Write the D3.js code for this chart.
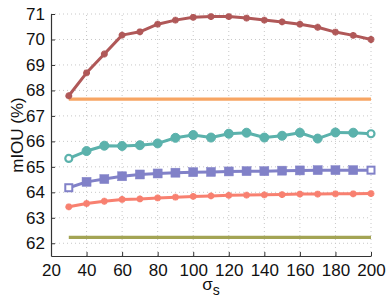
<!DOCTYPE html>
<html><head><meta charset="utf-8">
<script src="https://cdn.jsdelivr.net/npm/d3@7/dist/d3.min.js"></script>
<style>body{margin:0;background:#fff}svg{display:block}text{font-family:"Liberation Sans",Arial,sans-serif}</style>
</head><body>
<script>
const sigma = [30,40,50,60,70,80,90,100,110,120,130,140,150,160,170,180,190,200];
const brownVals = [67.79,68.69,69.43,70.17,70.30,70.60,70.76,70.87,70.90,70.90,70.84,70.76,70.69,70.60,70.48,70.29,70.16,70.00];
const tealVals  = [65.33,65.62,65.83,65.82,65.85,65.92,66.14,66.25,66.15,66.30,66.34,66.15,66.22,66.34,66.11,66.35,66.34,66.30];
const purpleVals= [64.18,64.41,64.52,64.63,64.70,64.74,64.77,64.79,64.80,64.82,64.83,64.83,64.85,64.86,64.87,64.87,64.87,64.87];
const salmonVals= [63.43,63.56,63.65,63.72,63.74,63.78,63.81,63.84,63.86,63.88,63.89,63.90,63.91,63.93,63.93,63.94,63.94,63.95];
const orangeVal = 67.66;
const oliveVal = 62.23;
const xTicks = [20,40,60,80,100,120,140,160,180,200];
const yTicks = [62,63,64,65,66,67,68,69,70,71];

const W=390,H=302, L=51, R=371, T=14, B=256;
const svg=d3.select("body").append("svg").attr("width",W).attr("height",H);
const x=d3.scaleLinear().domain([20,200]).range([L,R]);
const y=d3.scaleLinear().domain([61.5,71]).range([B,T]);

// grid
const g=svg.append("g");
g.selectAll(".vg").data(xTicks.slice(1)).enter().append("line")
 .attr("x1",d=>x(d)).attr("x2",d=>x(d)).attr("y1",B).attr("y2",T)
 .attr("stroke","#c8c8c8").attr("stroke-width",1).attr("stroke-dasharray","1,3");
g.selectAll(".hg").data(yTicks).enter().append("line")
 .attr("x1",L).attr("x2",R).attr("y1",d=>y(d)).attr("y2",d=>y(d))
 .attr("stroke","#c8c8c8").attr("stroke-width",1).attr("stroke-dasharray","1,3");

// axes
const xa=svg.append("g").attr("transform",`translate(0,${B})`)
 .call(d3.axisBottom(x).tickValues(xTicks).tickSize(-4).tickPadding(8).tickSizeOuter(0));
const ya=svg.append("g").attr("transform",`translate(${L},0)`)
 .call(d3.axisLeft(y).tickValues(yTicks).tickSize(-4).tickPadding(6).tickSizeOuter(0));
[xa,ya].forEach(a=>{a.select(".domain").attr("stroke","#333").attr("stroke-width",1.2);
 a.selectAll(".tick line").attr("stroke","#333");
 a.selectAll("text").attr("font-size",17).attr("fill","#111").attr("font-family","Liberation Sans, Arial, sans-serif");});

// labels
svg.append("text").attr("transform",`translate(23,${(T+B)/2}) rotate(-90)`)
 .attr("text-anchor","middle").attr("font-size",17).attr("fill","#111").text("mIOU (%)");
const xl=svg.append("text").attr("x",211).attr("y",290).attr("text-anchor","middle").attr("font-size",17).attr("fill","#111");
xl.append("tspan").text("σ");
xl.append("tspan").attr("font-size",14).attr("dy",5).text("s");

const line=d3.line().x((d,i)=>x(sigma[i])).y(d=>y(d));

// flat lines
svg.append("line").attr("x1",x(30)).attr("x2",x(200)).attr("y1",y(orangeVal)).attr("y2",y(orangeVal))
 .attr("stroke","#f7a563").attr("stroke-width",3.2);
svg.append("line").attr("x1",x(30)).attr("x2",x(200)).attr("y1",y(oliveVal)).attr("y2",y(oliveVal))
 .attr("stroke","#a3a454").attr("stroke-width",3.2);

function series(vals,color,marker){
  svg.append("path").datum(vals).attr("d",line).attr("fill","none")
   .attr("stroke",color).attr("stroke-width",3).attr("stroke-linejoin","round");
  const n=vals.length;
  vals.forEach((v,i)=>{
    const cx=x(sigma[i]), cy=y(v);
    const open=(i===0||i===n-1)&&(marker==="circle"||marker==="square");
    if(marker==="circle"){
      svg.append("circle").attr("cx",cx).attr("cy",cy).attr("r",open?3.5:4.5)
        .attr("fill",open?"#fff":color).attr("stroke",color).attr("stroke-width",open?2.2:1);
    } else if(marker==="square"){
      const s=open?7:9;
      svg.append("rect").attr("x",cx-s/2).attr("y",cy-s/2).attr("width",s).attr("height",s)
        .attr("fill",open?"#fff":color).attr("stroke",color).attr("stroke-width",open?2:0.5);
    } else {
      svg.append("path").attr("d",d3.symbol(d3.symbolCross,26)()).attr("transform",`translate(${cx},${cy}) rotate(45)`)
        .attr("fill",color);
      svg.append("path").attr("d",d3.symbol(d3.symbolCross,26)()).attr("transform",`translate(${cx},${cy})`)
        .attr("fill",color);
    }
  });
}
series(brownVals,"#b05858","star");
series(tealVals,"#5bb2ac","circle");
series(purpleVals,"#8181c8","square");
series(salmonVals,"#f88070","star");
</script>
</body></html>
